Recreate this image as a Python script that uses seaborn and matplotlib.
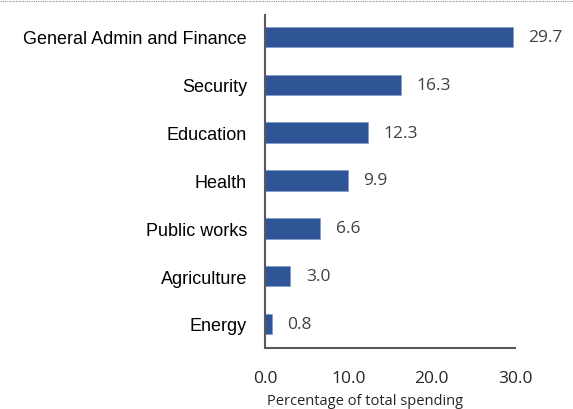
import matplotlib
matplotlib.use("Agg")
import matplotlib.pyplot as plt
from matplotlib.lines import Line2D
import seaborn as sns
import pandas as pd

sectors = ["General Admin and Finance", "Security", "Education", "Health",
           "Public works", "Agriculture", "Energy"]
shares = [29.7, 16.3, 12.3, 9.9, 6.6, 3.0, 0.8]
x_ticks = [0.0, 10.0, 20.0, 30.0]

sns.set_theme(style="white")
plt.rcParams["font.family"] = ["Open Sans", "DejaVu Sans"]

df = pd.DataFrame({"sector": sectors, "share": shares})

fig = plt.figure(figsize=(5.73, 4.10), dpi=100)
ax = fig.add_axes([0.4625, 0.149, 0.4363, 0.812])

sns.barplot(data=df, x="share", y="sector", color="#2F5597", width=0.43,
            saturation=1, edgecolor="#7f9ccf", linewidth=0.5, ax=ax)

for p, v in zip(ax.patches, shares):
    ax.text(p.get_width() + 1.9, p.get_y() + p.get_height() / 2, f"{v:.1f}",
            va="center", ha="left", fontsize=12.5, color="#404040")

ax.set_xlim(0, 30)
ax.set_ylim(6.5, -0.46)
ax.set_xticks(x_ticks)
ax.set_xticklabels([f"{t:.1f}" for t in x_ticks], fontsize=12.5, color="#262626")
ax.set_yticklabels(sectors, family=["Liberation Sans", "DejaVu Sans"],
                   fontsize=13, color="#000000")
ax.tick_params(axis="both", length=0)
ax.tick_params(axis="x", pad=16)
ax.tick_params(axis="y", pad=13)
ax.set_xlabel("Percentage of total spending", fontsize=10.5, color="#262626", labelpad=2)
ax.xaxis.set_label_coords(0.4, -0.135)
ax.set_ylabel("")

for s in ["top", "right"]:
    ax.spines[s].set_visible(False)
for s in ["left", "bottom"]:
    ax.spines[s].set_color("#595959")
    ax.spines[s].set_linewidth(1.5)

fig.add_artist(Line2D([0, 1], [0.995, 0.995], transform=fig.transFigure,
                      color="#8c8c8c", linestyle=(0, (1, 1)), linewidth=0.8))

fig.savefig("out.png", dpi=100)
